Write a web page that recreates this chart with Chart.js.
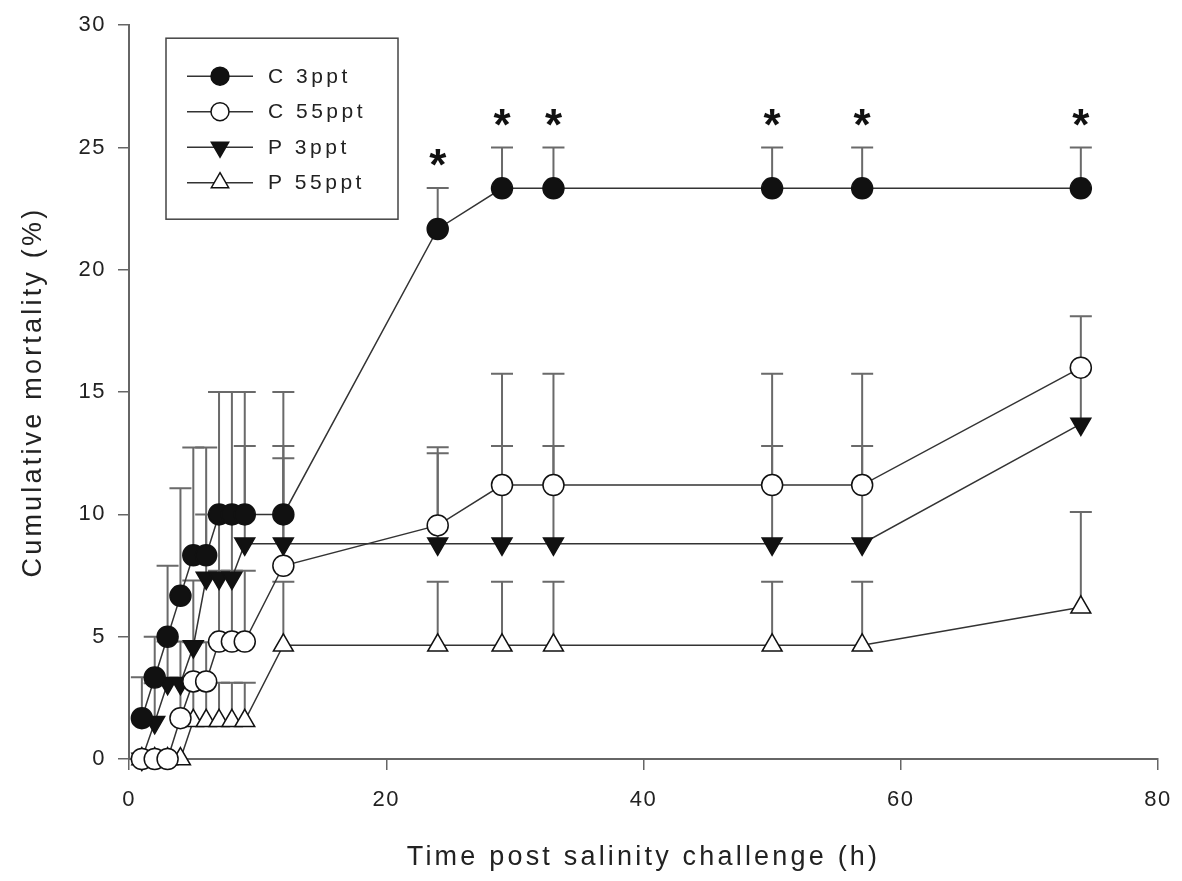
<!DOCTYPE html>
<html>
<head>
<meta charset="utf-8">
<script src="https://cdn.jsdelivr.net/npm/chart.js@4/dist/chart.umd.min.js"></script>
<style>
	html, body { margin: 0; padding: 0; background: #fff; }
	#wrap { width: 1182px; height: 881px; }
</style>
</head>
<body>
<div id="wrap"><canvas id="line-chart"></canvas></div>
<script>
// hours after the salinity challenge
var times = [1, 2, 3, 4, 5, 6, 7, 8, 9, 12, 24, 29, 33, 50, 57, 74];

// cumulative mortality (%) per group
var c3ppt  = [1.67, 3.33, 5.0, 6.67, 8.33, 8.33, 10, 10, 10, 10, 21.67, 23.33, 23.33, 23.33, 23.33, 23.33];
var c55ppt = [0, 0, 0, 1.67, 3.17, 3.17, 4.8, 4.8, 4.8, 7.9, 9.55, 11.2, 11.2, 11.2, 11.2, 16.0];
var p3ppt  = [0, 1.5, 3.1, 3.1, 4.6, 7.4, 7.4, 7.4, 8.8, 8.8, 8.8, 8.8, 8.8, 8.8, 8.8, 13.7];
var p55ppt = [0, 0, 0, 0, 1.56, 1.56, 1.56, 1.56, 1.56, 4.65, 4.65, 4.65, 4.65, 4.65, 4.65, 6.2];

// upper error (SE) per point
var c3Err  = [1.67, 1.67, 2.9, 4.4, 4.4, 4.4, 5, 5, 5, 5, 1.67, 1.67, 1.67, 1.67, 1.67, 1.67];
var c55Err = [0, 0, 0, 1.6, 1.6, 1.6, 2.9, 2.9, 2.9, 4.4, 3.2, 4.55, 4.55, 4.55, 4.55, 2.1];
var p3Err  = [0, 1.6, 1.7, 1.7, 2.7, 2.6, 2.6, 2.6, 4.0, 4.0, 3.7, 4.0, 4.0, 4.0, 4.0, 2.3];
var p55Err = [0, 0, 0, 0, 1.56, 1.56, 1.56, 1.56, 1.56, 2.6, 2.6, 2.6, 2.6, 2.6, 2.6, 3.9];

// time points marked * (C 3ppt)
var sigTimes = [24, 29, 33, 50, 57, 74];

var labels = ["C 3ppt", "C 55ppt", "P 3ppt", "P 55ppt"];
var xTicks = [0, 20, 40, 60, 80];
var yTicks = [0, 5, 10, 15, 20, 25, 30];

var FONT = "'Liberation Sans', Arial, sans-serif";

function pts(vals) {
	return times.map(function(t, i) { return { x: t, y: vals[i] }; });
}

var errs = [c3Err, c55Err, p3Err, p55Err];

// the figure's lettering is loosely spaced
var spacingPlugin = {
	id: 'spacing',
	beforeDraw: function(chart) {
		chart.ctx.letterSpacing = '1.5px';
	},
	afterUpdate: function(chart) {
		['x', 'y'].forEach(function(id) {
			var s = chart.scales[id];
			if (s._spaced) return;
			var orig = s.drawTitle;
			s.drawTitle = function() {
				var c = this.ctx;
				var old = c.letterSpacing;
				c.letterSpacing = '3.2px';
				orig.apply(this, arguments);
				c.letterSpacing = old;
			};
			s._spaced = true;
		});
	}
};

var errorBars = {
	id: 'errorBars',
	beforeDatasetsDraw: function(chart) {
		var ctx = chart.ctx;
		var xs = chart.scales.x, ys = chart.scales.y;
		ctx.save();
		ctx.strokeStyle = '#6a6a6a';
		ctx.lineWidth = 2;
		chart.data.datasets.forEach(function(ds, di) {
			ds.data.forEach(function(p, j) {
				var e = errs[di][j];
				if (!e) return;
				var x = xs.getPixelForValue(p.x);
				var y0 = ys.getPixelForValue(p.y);
				var y1 = ys.getPixelForValue(p.y + e);
				ctx.beginPath();
				ctx.moveTo(x, y0);
				ctx.lineTo(x, y1);
				ctx.moveTo(x - 11, y1);
				ctx.lineTo(x + 11, y1);
				ctx.stroke();
			});
		});
		ctx.restore();
	},
	afterDatasetsDraw: function(chart) {
		var ctx = chart.ctx;
		var xs = chart.scales.x, ys = chart.scales.y;
		ctx.save();
		ctx.fillStyle = '#111';
		ctx.font = 'bold 44px ' + FONT;
		ctx.letterSpacing = '0px';
		ctx.textAlign = 'center';
		ctx.textBaseline = 'alphabetic';
		sigTimes.forEach(function(t) {
			var j = times.indexOf(t);
			var x = xs.getPixelForValue(t);
			var y = ys.getPixelForValue(c3ppt[j] + c3Err[j]);
			ctx.fillText('*', x, y - 8);
		});
		ctx.restore();
	}
};

var legendBox = {
	id: 'legendBox',
	afterDraw: function(chart) {
		var ctx = chart.ctx;
		var a = chart.chartArea;
		var bx = a.left + 37, by = a.top + 13;
		ctx.save();
		ctx.strokeStyle = '#444';
		ctx.lineWidth = 1.5;
		ctx.strokeRect(bx, by, 232, 181);
		ctx.font = '21px ' + FONT;
		ctx.letterSpacing = '3.5px';
		ctx.textBaseline = 'middle';
		chart.data.datasets.forEach(function(ds, i) {
			var y = by + 38 + i * 35.5;
			ctx.strokeStyle = '#333';
			ctx.lineWidth = 1.5;
			ctx.beginPath();
			ctx.moveTo(bx + 21, y);
			ctx.lineTo(bx + 87, y);
			ctx.stroke();
			ctx.fillStyle = ds.pointBackgroundColor;
			ctx.strokeStyle = '#111';
			Chart.helpers.drawPoint(ctx, {
				pointStyle: ds.pointStyle,
				rotation: ds.pointRotation || 0,
				radius: ds.pointStyle === 'triangle' ? 10 : 9,
				borderWidth: 1.5
			}, bx + 54, y);
			ctx.fillStyle = '#222';
			ctx.fillText(labels[i], bx + 102, y + 1);
		});
		ctx.restore();
	}
};

function series(name, vals, style, fill, rot, r) {
	return {
		label: name,
		data: pts(vals),
		borderColor: '#333',
		borderWidth: 1.5,
		pointStyle: style,
		pointRotation: rot,
		pointRadius: r,
		pointBackgroundColor: fill,
		pointBorderColor: '#111',
		pointBorderWidth: 1.5,
		clip: false,
		fill: false,
		tension: 0
	};
}

new Chart(document.getElementById("line-chart"), {
	type: 'line',
	data: {
		datasets: [
			series(labels[0], c3ppt, 'circle', '#111', 0, 10.5),
			series(labels[1], c55ppt, 'circle', '#fff', 0, 10.5),
			series(labels[2], p3ppt, 'triangle', '#111', 180, 11.5),
			series(labels[3], p55ppt, 'triangle', '#fff', 0, 11.5)
		]
	},
	options: {
		responsive: true,
		maintainAspectRatio: false,
		animation: false,
		layout: { padding: { top: 21, right: 24, left: 0, bottom: 0 } },
		plugins: {
			legend: { display: false },
			tooltip: { enabled: false }
		},
		scales: {
			x: {
				type: 'linear',
				min: 0,
				max: 80,
				afterBuildTicks: function(s) { s.ticks = xTicks.map(function(v) { return { value: v }; }); },
				afterFit: function(s) { s.height = 122; s.paddingLeft = 0; s.paddingRight = 0; },
				grid: { drawOnChartArea: false, drawTicks: true, tickLength: 11, color: '#666', lineWidth: 1.5 },
				border: { color: '#666', width: 2 },
				ticks: { color: '#222', padding: 17, font: { family: FONT, size: 22 }, maxRotation: 0 },
				title: { display: true, text: 'Time post salinity challenge (h)', color: '#222', font: { family: FONT, size: 27 }, padding: { bottom: 7 } }
			},
			y: {
				min: 0,
				max: 30,
				afterBuildTicks: function(s) { s.ticks = yTicks.map(function(v) { return { value: v }; }); },
				afterFit: function(s) { s.width = 129; },
				grid: { drawOnChartArea: false, drawTicks: true, tickLength: 11, color: '#666', lineWidth: 1.5 },
				border: { color: '#666', width: 2 },
				ticks: { color: '#222', padding: 12, font: { family: FONT, size: 22 } },
				title: { display: true, text: 'Cumulative mortality (%)', color: '#222', font: { family: FONT, size: 27 }, padding: { top: 17 } }
			}
		}
	},
	plugins: [spacingPlugin, errorBars, legendBox]
});
</script>
</body>
</html>
